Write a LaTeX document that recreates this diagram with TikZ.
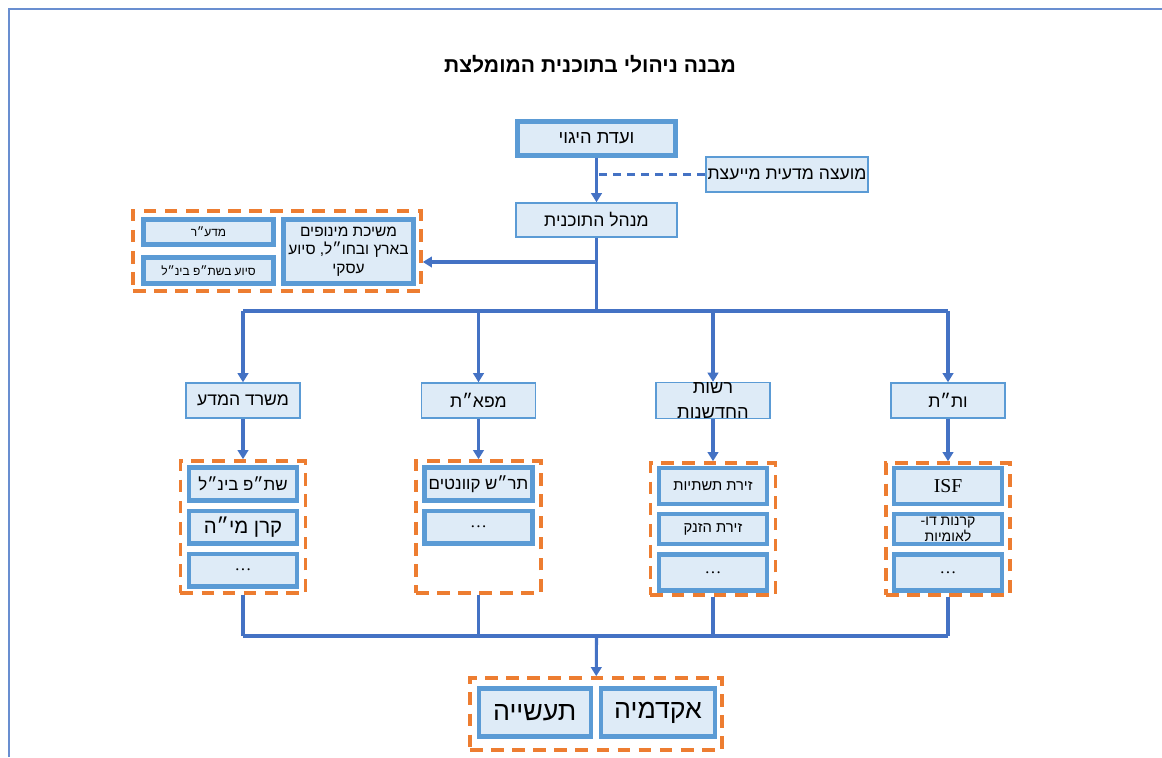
\documentclass[tikz,border=0pt]{standalone}
\usepackage{fontspec}
\setmainfont{Liberation Serif}
\newfontfamily\hebfont[Script=Hebrew]{Liberation Sans}
\usepackage{tikz}
\usetikzlibrary{arrows.meta, positioning}
\TeXXeTstate=1
\newcommand{\heline}[1]{{\hebfont\beginR #1\endR}}
\definecolor{lineblue}{HTML}{4472C4}
\definecolor{boxblue}{HTML}{5B9BD5}
\definecolor{boxfill}{HTML}{DEEBF7}
\definecolor{grporange}{HTML}{ED7D31}

\begin{document}
\begin{tikzpicture}[
        x=0.025cm, y=-0.025cm,
        node distance=0.15cm,
        every node/.style={align=center, inner sep=1pt, font=\fontsize{12.5}{15}\selectfont},
        box/.style={draw=boxblue, line width=1pt, fill=boxfill, minimum width=2.85cm, minimum height=0.875cm},
        thickbox/.style={box, line width=3pt, minimum width=2.7cm, minimum height=0.82cm, font=\fontsize{12}{14}\selectfont},
        grp/.style={draw=grporange, line width=2.5pt, dash pattern=on 9pt off 6pt, minimum width=3.125cm, minimum height=3.3cm},
        small/.style={font=\fontsize{8.5}{10}\selectfont},
        link/.style={draw=lineblue, line width=2.2pt},
        arr/.style={link, -{Triangle[width=7.5pt,length=6.5pt]}},
        advice/.style={draw=lineblue, line width=2pt, dash pattern=on 6pt off 4pt},
        frame/.style={draw=lineblue!80, line width=1.2pt}
    ]
    \useasboundingbox (0,0) rectangle (1162,757);

    % page frame
    \draw[frame] (9,757) -- (9,9) -- (1162,9);

    % title
    \node[font=\bfseries\fontsize{15}{18}\selectfont] (title) at (590,64) {\heline{מבנה ניהולי בתוכנית המומלצת}};

    % steering and management
    \node[thickbox, font=\fontsize{13}{15}\selectfont, minimum width=3.95cm, minimum height=0.85cm] (steer) at (596.5,138.5) {\heline{ועדת היגוי}};
    \node[box, minimum width=4cm] (council) at (787,174.5) {\heline{מועצה מדעית מייעצת}};
    \node[box, minimum width=4.025cm, minimum height=0.85cm] (head) at (596.5,220) {\heline{מנהל התוכנית}};
    \coordinate (split) at (596.5,262);
    \coordinate (bus) at (596.5,311);

    \draw[arr] (steer) -- (head);
    \draw[advice] (council) -- (council -| steer);
    \draw[link] (head) -- (bus);

    % support group on the left
    \node[grp, minimum width=7.2cm, minimum height=2cm] (supgrp) at (277,251) {};
    \node[thickbox, font=\fontsize{11}{13}\selectfont, minimum width=3.25cm, minimum height=1.6cm] (levers) at (348.5,251.5) {\heline{משיכת מינופים}\\\heline{בארץ ובחו״ל, סיוע}\\\heline{עסקי}};
    \node[thickbox, small, minimum width=3.25cm, minimum height=0.62cm] (chief) at (208.5,232) {\heline{מדע״ר}};
    \node[thickbox, small, minimum width=3.25cm, minimum height=0.65cm] (intl) at (208.5,270.5) {\heline{סיוע בשת״פ בינ״ל}};

    \draw[arr] (split) -- (split -| supgrp.east);

    % funding bodies
    \node[box] (most) at (243,400.5) {\heline{משרד המדע}};
    \node[box] (mafat) at (478.5,400.5) {\heline{מפא״ת}};
    \node[box, text height=25.5pt, text depth=0pt, inner ysep=0pt, font=\fontsize{13}{18}\selectfont] (iia) at (713,400.5) {\heline{רשות}\\\heline{החדשנות}};
    \node[box] (vatat) at (948,400.5) {\heline{ות״ת}};

    \draw[link] (most |- bus) -- (vatat |- bus);
    \foreach \n in {most, mafat, iia, vatat}
        \draw[arr] (\n |- bus) -- (\n);

    % programme groups
    \node[grp] (most-grp) at (243,527) {};
    \node[grp] (mafat-grp) at (478.5,527) {};
    \node[grp] (iia-grp) at (713,529) {};
    \node[grp, minimum width=3.1cm] (vatat-grp) at (948,529) {};

    \foreach \n in {most, mafat, iia, vatat}
        \draw[arr] (\n) -- (\n-grp);

    \node[thickbox] (most-1) at (243,484) {\heline{שת״פ בינ״ל}};
    \node[thickbox, font=\fontsize{14.5}{16}\selectfont, below=of most-1] (most-2) {\heline{קרן מי״ה}};
    \node[thickbox, below=of most-2] (most-3) {\dots};

    \node[thickbox] (mafat-1) at (478.5,484) {\heline{תר״ש קוונטים}};
    \node[thickbox, below=of mafat-1] (mafat-2) {\dots};

    \node[thickbox, minimum height=0.9cm, font=\fontsize{10.5}{12}\selectfont] (iia-1) at (713,486) {\heline{זירת תשתיות}};
    \node[thickbox, minimum height=0.75cm, font=\fontsize{10.5}{12}\selectfont, below=of iia-1] (iia-2) {\heline{זירת הזנק}};
    \node[thickbox, minimum height=0.9cm, below=of iia-2] (iia-3) {\dots};

    \node[thickbox, minimum height=0.9cm, font=\fontsize{14}{16}\selectfont] (vatat-1) at (948,486) {ISF};
    \node[thickbox, minimum height=0.75cm, font=\fontsize{10}{10}\selectfont, below=of vatat-1] (vatat-2) {\heline{קרנות דו-}\\\heline{לאומיות}};
    \node[thickbox, minimum height=0.9cm, below=of vatat-2] (vatat-3) {\dots};

    % academia and industry
    \coordinate (merge) at (596.5,636);
    \foreach \n in {most, mafat, iia, vatat}
        \draw[link] (\n-grp) -- (\n-grp |- merge);
    \draw[link] (most-grp |- merge) -- (vatat-grp |- merge);

    \node[grp, minimum width=6.3cm, minimum height=1.8cm] (partners) at (596,714) {};
    \draw[arr] (merge) -- (partners);

    \node[thickbox, font=\fontsize{19}{22}\selectfont, minimum width=2.85cm, minimum height=1.2cm] (academia) at (658,712.5) {\heline{אקדמיה}};
    \node[thickbox, font=\fontsize{19}{22}\selectfont, minimum width=2.8cm, minimum height=1.2cm, left=of academia] (industry) {\heline{תעשייה}};

\end{tikzpicture}
\end{document}
